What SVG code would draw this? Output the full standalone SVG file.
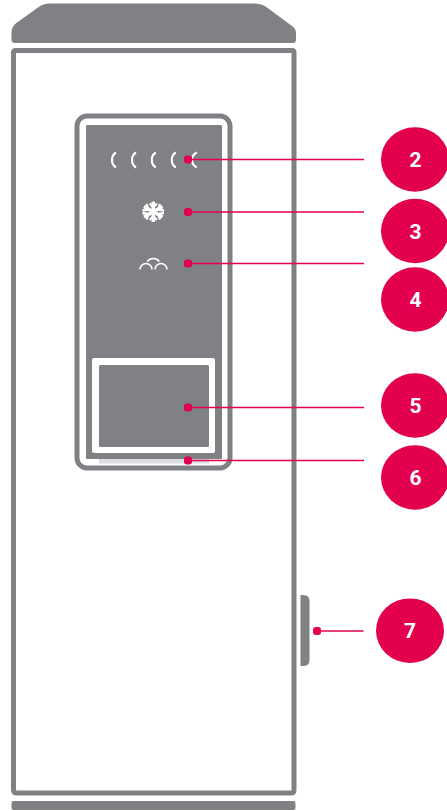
<svg xmlns="http://www.w3.org/2000/svg" width="447" height="811" viewBox="0 0 447 811">
<style>
.g{fill:#808184}
.w{fill:#fff}
.ic{fill:none;stroke:#fff;stroke-width:1.600;stroke-linecap:butt}
.cr{fill:none;stroke:#fff;stroke-width:2.100;stroke-linecap:butt}
.ln{stroke:#e2004f;stroke-width:1.6;fill:none}
.dot{fill:#e2004f}
.c{fill:#e2004f}
.t{font-family:Roboto,"Liberation Sans",sans-serif;font-size:21px;font-weight:700;fill:#fff;text-anchor:middle}
</style>
<rect width="447" height="811" fill="#fff"/>
<g id="device">
<path class="g" d="M50 3.500H254Q262 3.500 267 7.500L292 26Q296 29 296 33V39.500Q296 43 292.500 43H15Q11.500 43 11.500 39.500V33Q11.500 26 17 22.500L38 7.500Q43 3.500 50 3.500Z"/>
<path d="M13.500 52.500Q13.500 50.500 15.500 50.500H292Q294 50.500 294 52.500V790Q294 793 291 793H17Q13.500 793 13.500 790Z" fill="#fff" stroke="#808184" stroke-width="5"/>
<rect class="g" x="11.500" y="801" width="284" height="9" rx="2"/>
<path class="g" d="M300.500 595H303Q309.500 595 309.500 601V660Q309.500 666 303 666H300.500Z"/>
</g>
<g id="panel">
<rect x="77" y="116" width="153" height="352" rx="10" fill="#fff" stroke="#808184" stroke-width="5"/>
<rect class="g" x="86" y="125" width="136" height="334" rx="1.500"/>
<rect x="99" y="459" width="110" height="4.500" fill="#dcddde"/>
<rect class="w" x="92" y="358" width="123" height="95" rx="2"/>
<rect class="g" x="99" y="365" width="110" height="82" rx="1.500"/>
</g>
<g id="icons">
<path class="cr" d="M116 152.500Q112 155 112 160Q112 165 116 167.500M136 152.500Q132 155 132 160Q132 165 136 167.500M155.800 152.500Q151.800 155 151.800 160Q151.800 165 155.800 167.500M175.800 152.500Q171.800 155 171.800 160Q171.800 165 175.800 167.500M196.800 152.500Q192 155 192 160Q192 165 196.800 167.500"/>
<g stroke="#fff" stroke-width="3.400" stroke-linecap="butt" fill="none">
<path d="M153.300 201.500V222M144 206.500L162.500 217M144 217L162.500 206.500"/>
<path stroke-width="2.300" d="M149.800 203.500L153.300 207.500L156.800 203.500M149.800 220L153.300 216L156.800 220M142.500 210.500L148.500 209.500L146.500 204M164 213L158 214L160 219.500M142.500 213L148.500 214L146.500 219.500M164 210.500L158 209.500L160 204"/>
</g>
<path class="ic" d="M140 269.500A6 6 0 0 1 152 269.500M155 269.500A6 6 0 0 1 167 269.500M147.300 261.500A7.500 7.500 0 0 1 159.300 261.500"/>
</g>
<g id="connectors">
<path class="ln" d="M188 159.500H364M188 212H364M188 263.500H364M188 407.500H364M188 460.500H364M317 631H363.500"/>
<rect class="dot" x="184" y="155.500" width="8" height="8" rx="3"/>
<rect class="dot" x="184" y="208" width="8" height="8" rx="3"/>
<rect class="dot" x="184" y="259.500" width="8" height="8" rx="3"/>
<rect class="dot" x="184" y="403.500" width="8" height="8" rx="3"/>
<rect class="dot" x="184" y="456.500" width="8" height="8" rx="3"/>
<rect class="dot" x="313" y="627" width="8" height="8" rx="3"/>
</g>
<g id="n2"><ellipse class="c" cx="415" cy="159.500" rx="34" ry="32.300"/><text class="t" x="415.500" y="167">2</text></g>
<g id="n3"><ellipse class="c" cx="415" cy="231" rx="34" ry="32.300"/><text class="t" x="415.500" y="238.500">3</text></g>
<g id="n4"><ellipse class="c" cx="415" cy="299.500" rx="34" ry="32.300"/><text class="t" x="415.500" y="307">4</text></g>
<g id="n5"><ellipse class="c" cx="415" cy="405.500" rx="34" ry="32.300"/><text class="t" x="415.500" y="413">5</text></g>
<g id="n6"><ellipse class="c" cx="415" cy="477.500" rx="34" ry="32.300"/><text class="t" x="415.500" y="485">6</text></g>
<g id="n7"><ellipse class="c" cx="410" cy="630.700" rx="34" ry="32.300"/><text class="t" x="410" y="638">7</text></g>
</svg>
